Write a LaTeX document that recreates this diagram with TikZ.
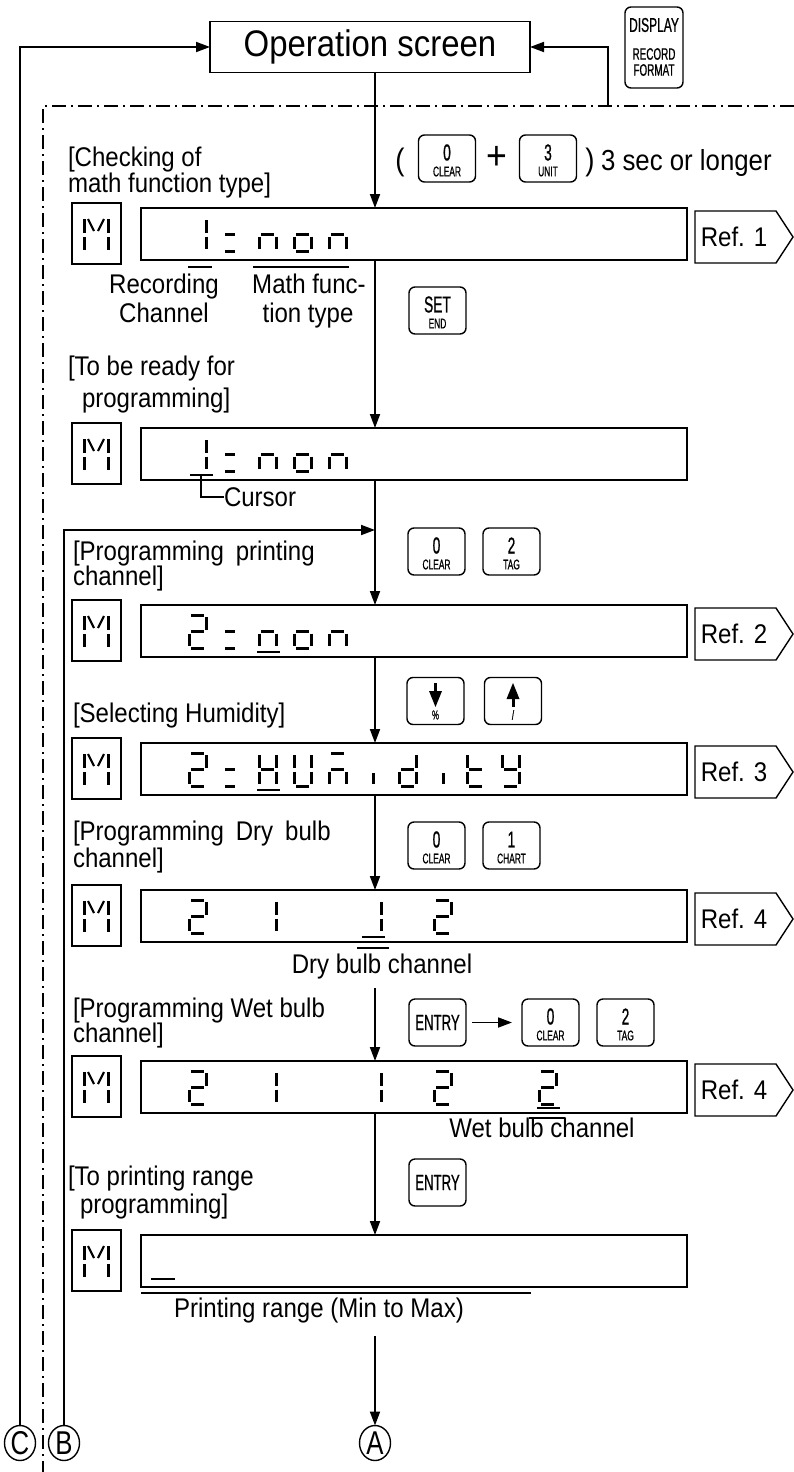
\documentclass[tikz,border=0pt]{standalone}
\usepackage{fontspec}
\setmainfont[FakeStretch=0.89]{Liberation Sans}
\newfontfamily\keyf[FakeStretch=0.6,FakeBold=0.7]{Liberation Sans}
\newfontfamily\circf[FakeStretch=0.78]{Liberation Sans}
\usetikzlibrary{arrows.meta,shapes.geometric}
\newcommand\Lsz{\fontsize{27}{30}\selectfont}
\tikzset{
 every node/.style={inner sep=0pt, outer sep=0pt},
 lbl/.style={font=\Lsz, anchor=base west},
 lblc/.style={font=\Lsz, anchor=base},
 box/.style={draw, line width=1.8pt},
 flow/.style={line width=1.8pt, -{Triangle[length=14pt,width=10pt]}},
 thinln/.style={line width=1.4pt},
 keybox/.style={draw, line width=1.4pt, rounded corners=6pt, minimum width=57pt, minimum height=47pt},
 seg/.style={line width=3pt},
 dashdot/.style={line width=1.3pt, dash pattern=on 14pt off 5pt on 2pt off 5pt},
 circ/.style={draw, ellipse, line width=1.4pt, minimum width=31pt, minimum height=35pt, font=\circf\fontsize{33}{33}\selectfont},
}
% seven-segment pieces: #1 = left, #2 = top
\newcommand\sgA[2]{\draw[seg] ({#1+2},{#2}) -- ({#1+15},{#2});}
\newcommand\sgB[2]{\draw[seg] ({#1+17},{#2+2}) -- ({#1+17},{#2+14.5});}
\newcommand\sgC[2]{\draw[seg] ({#1+17},{#2+18.5}) -- ({#1+17},{#2+31});}
\newcommand\sgD[2]{\draw[seg] ({#1+2},{#2+33}) -- ({#1+15},{#2+33});}
\newcommand\sgE[2]{\draw[seg] ({#1},{#2+18.5}) -- ({#1},{#2+31});}
\newcommand\sgF[2]{\draw[seg] ({#1},{#2+2}) -- ({#1},{#2+14.5});}
\newcommand\sgG[2]{\draw[seg] ({#1+2},{#2+16.5}) -- ({#1+15},{#2+16.5});}
\newcommand\sgI[2]{\draw[seg] ({#1+9},{#2+20}) -- ({#1+9},{#2+31});}
\newcommand\sgK[2]{\draw[seg] ({#1},{#2+16.5}) -- ({#1+10},{#2+16.5});
  \draw[seg] ({#1},{#2+33}) -- ({#1+10},{#2+33});}
\newcommand\dgt[3]{\foreach \q in {#3}{\csname sg\q\endcsname{#1}{#2}}}
\newcommand\mglyph[2]{%
 \draw[seg] (#1,{#2+1}) -- (#1,{#2+15}); \draw[seg] ({#1+24},{#2+1}) -- ({#1+24},{#2+15});
 \draw[seg] (#1,{#2+19}) -- (#1,{#2+32}); \draw[seg] ({#1+24},{#2+19}) -- ({#1+24},{#2+32});
 \draw[line width=2.2pt] ({#1+4},{#2+1}) -- ({#1+10},{#2+13});
 \draw[line width=2.2pt] ({#1+20},{#2+1}) -- ({#1+14},{#2+13});}
\newcommand\disp[2]{%
 \node[box, minimum width=546pt, minimum height=52pt] (#1) at (414,{#2+26}) {};
 \node[box, line width=1.4pt, minimum width=49pt, minimum height=61pt] (#1m) at (96.5,{#2+25.5}) {};
 \mglyph{84}{#2+10}}
\newcommand\refb[3]{%
 \draw[line width=1.4pt] (695,{#2+3}) -- (776,{#2+3}) -- (793,{#2+29}) -- (776,{#2+55}) -- (695,{#2+55}) -- cycle;
 \node[font=\Lsz] (#1) at (734,{#2+29}) {#3};}
\newcommand\keyk[5]{%
 \node[keybox] (#1) at (#2,#3) {};
 \node[font=\keyf\fontsize{23}{23}\selectfont] (#1t) at (#2,{#3-6}) {#4};
 \node[font=\keyf\fontsize{14}{14}\selectfont] (#1b) at (#2,{#3+13}) {#5};}
\begin{document}
\begin{tikzpicture}[x=1pt,y=-1pt]
\useasboundingbox (0,0) rectangle (794,1472);
\coordinate (mx) at (375,0);
% top
\node[box, minimum width=320pt, minimum height=51pt, font=\fontsize{37}{38}\selectfont] (op) at (370,47) {Operation screen};
\node[keybox, minimum width=58pt, minimum height=81pt] (kd) at (654,47.5) {};
\node[font=\keyf\fontsize{20}{20}\selectfont] (kdt) at (654,25) {DISPLAY};
\node[font=\keyf\fontsize{16.5}{16.5}\selectfont] (kdr) at (654,54) {RECORD};
\node[font=\keyf\fontsize{16.5}{16.5}\selectfont] (kdf) at (654,70) {FORMAT};
\draw[dashdot] (794,106) -- (43,106) -- (43,1472);
\coordinate (rj) at (608,106);
\draw[flow] (rj) |- (op.east);
% circles
\node[circ] (cA) at (375,1443) {A};
\node[circ] (cB) at (64,1443) {B};
\node[circ] (cC) at (20,1443) {C};
\draw[flow] (cC.north) |- (op.west);
% step 1
\node[lbl] (c1a) at (68,166) {[Checking of};
\node[lbl] (c1b) at (68,192) {math function type]};
\node[font=\fontsize{31}{31}\selectfont, anchor=base] (lp) at (400,170) {(};
\keyk{k1a}{447}{158.5}{0}{CLEAR}
\node[font=\fontsize{40}{40}\selectfont] (pl) at (497,158) {+};
\keyk{k1b}{548}{158.5}{3}{UNIT}
\node[font=\fontsize{31}{31}\selectfont, anchor=base] (rp) at (590,170) {)};
\node[lbl, font=\fontsize{29}{30}\selectfont] (sec) at (601,170) {3 sec or longer};
\disp{d1}{208}
\refb{r1}{208}{Ref. 1}
\dgt{189}{218}{B,C}\sgK{225}{218}
\dgt{259}{218}{C,E,G}\dgt{294}{218}{C,D,E,G}\dgt{329}{218}{C,E,G}
\draw[thinln] (188,267) -- (212,267);
\draw[thinln] (253,267) -- (349,267);
\node[lblc] (rec1) at (164,293) {Recording};
\node[lblc] (rec2) at (164,322) {Channel};
\node[lblc] (mf1) at (309,293) {Math func-};
\node[lblc] (mf2) at (308,322) {tion type};
\keyk{k2}{437.5}{310.5}{SET}{END}
% step 2
\node[lbl] (c2a) at (68,375) {[To be ready for};
\node[lbl] (c2b) at (82,407) {programming]};
\disp{d2}{428}
\dgt{189}{438}{B,C}\sgK{225}{438}
\dgt{259}{438}{C,E,G}\dgt{294}{438}{C,D,E,G}\dgt{329}{438}{C,E,G}
\draw[thinln] (190,475) -- (213,475);
\coordinate (cu) at (201,475);
\node[font=\Lsz, anchor=west] (cur) at (224,497) {Cursor};
\draw[thinln] (cu) |- (cur.west);
% step 3
\coordinate (bj) at (375,530);
\draw[flow] (cB.north) |- (bj);
\node[lbl] (c3a) at (73,560) {[Programming\hspace{12pt}printing};
\node[lbl] (c3b) at (73,585) {channel]};
\keyk{k3a}{436.5}{551.5}{0}{CLEAR}
\keyk{k3b}{511.5}{551.5}{2}{TAG}
\disp{d3}{605}
\refb{r2}{605}{Ref. 2}
\dgt{189}{615}{A,B,G,E,D}\sgK{225}{615}
\dgt{259}{615}{C,E,G}\dgt{294}{615}{C,D,E,G}\dgt{329}{615}{C,E,G}
\draw[thinln] (257,652) -- (280,652);
% step 4
\node[lbl] (c4a) at (73,722) {[Selecting Humidity]};
\node[keybox] (k4a) at (435.5,701) {};
\draw[line width=3pt] (435.5,683) -- (435.5,692);
\fill (429,691) -- (442,691) -- (435.5,707) -- cycle;
\node[font=\keyf\fontsize{13}{13}\selectfont] (k4at) at (435.5,715) {\%};
\node[keybox] (k4b) at (513,701) {};
\fill (513,683) -- (519.5,699) -- (506.5,699) -- cycle;
\draw[line width=3pt] (513,698) -- (513,707);
\node[font=\keyf\fontsize{13}{13}\selectfont] (k4bt) at (513,715) {/};
\disp{d4}{743}
\refb{r3}{743}{Ref. 3}
\dgt{189}{753}{A,B,G,E,D}\sgK{225}{753}
\dgt{259}{753}{B,C,E,F,G}\dgt{294}{753}{B,C,D,E,F}\dgt{329}{753}{A,C,E,G}
\dgt{364}{753}{I}\dgt{399}{753}{B,C,D,E,G}\dgt{434}{753}{I}
\dgt{467}{753}{D,E,F,G}\dgt{502}{753}{B,C,D,F,G}
\draw[thinln] (257,790) -- (280,790);
% step 5
\node[lbl] (c5a) at (73,840) {[Programming\hspace{12pt}Dry\hspace{12pt}bulb};
\node[lbl] (c5b) at (73,867) {channel]};
\keyk{k5a}{436.5}{845.5}{0}{CLEAR}
\keyk{k5b}{511.5}{845.5}{1}{CHART}
\disp{d5}{890}
\refb{r4}{890}{Ref. 4}
\dgt{189}{900}{A,B,G,E,D}\dgt{259}{900}{B,C}\dgt{364}{900}{B,C}\dgt{434}{900}{A,B,G,E,D}
\draw[thinln] (362,937) -- (385,937);
\draw[thinln] (357,948) -- (389,948);
\node[lblc] (dbc) at (382,973) {Dry bulb channel};
% step 6
\node[lbl] (c6a) at (73,1017) {[Programming Wet bulb};
\node[lbl] (c6b) at (73,1042) {channel]};
\node[keybox] (k6a) at (437.5,1022.5) {};
\node[font=\keyf\fontsize{22}{22}\selectfont] (k6at) at (437.5,1022.5) {ENTRY};
\keyk{k6b}{550.5}{1022.5}{0}{CLEAR}
\keyk{k6c}{625.5}{1022.5}{2}{TAG}
\draw[flow, shorten <=6pt, shorten >=10pt] (k6a) -- (k6b);
\disp{d6}{1061}
\coordinate (s6) at (375,988);
\draw[flow] (s6) -- (d6.north -| mx);
\refb{r5}{1061}{Ref. 4}
\dgt{189}{1071}{A,B,G,E,D}\dgt{259}{1071}{B,C}\dgt{364}{1071}{B,C}\dgt{434}{1071}{A,B,G,E,D}
\dgt{539}{1071}{A,B,G,E,D}
\draw[thinln] (537,1108) -- (560,1108);
\draw[thinln] (529,1118) -- (565,1118);
\node[lblc] (wbc) at (542,1137) {Wet bulb channel};
% step 7
\node[lbl] (c7a) at (68,1185) {[To printing range};
\node[lbl] (c7b) at (80,1213) {programming]};
\node[keybox] (k7) at (437.5,1182.5) {};
\node[font=\keyf\fontsize{22}{22}\selectfont] (k7t) at (437.5,1182.5) {ENTRY};
\disp{d7}{1235}
\draw[thinln] (151,1279) -- (175,1279);
\draw[thinln] (141,1293) -- (531,1293);
\node[lblc] (prr) at (319,1317) {Printing range (Min to Max)};
% main flow
\draw[flow] (op.south -| mx) -- (d1.north -| mx);
\draw[flow] (d1.south -| mx) -- (d2.north -| mx);
\draw[flow] (d2.south -| mx) -- (d3.north -| mx);
\draw[flow] (d3.south -| mx) -- (d4.north -| mx);
\draw[flow] (d4.south -| mx) -- (d5.north -| mx);
\draw[flow] (d6.south -| mx) -- (d7.north -| mx);
\coordinate (s8) at (375,1336);
\draw[flow] (s8) -- (cA.north);
\end{tikzpicture}
\end{document}
